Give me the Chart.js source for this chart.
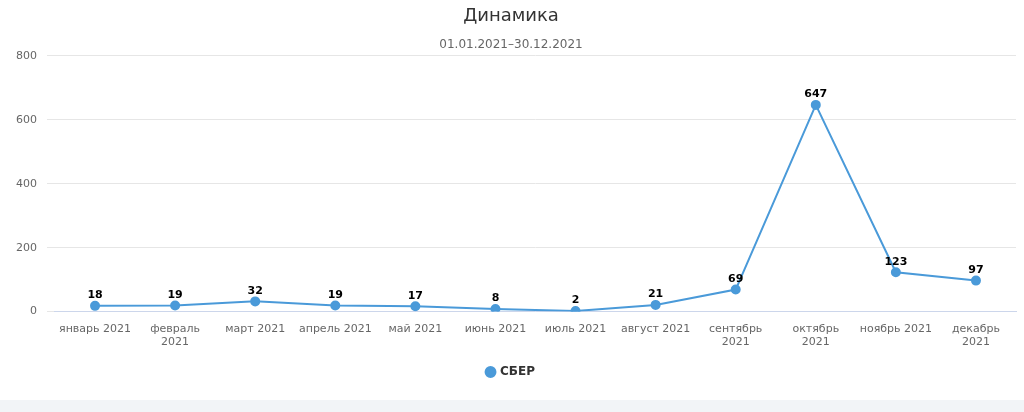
<!DOCTYPE html>
<html><head><meta charset="utf-8">
<script src="https://cdn.jsdelivr.net/npm/chart.js@4"></script>
<style>
html,body{margin:0;padding:0;background:#f2f4f7;}
#wrap{width:1024px;height:400px;background:#fff;position:relative;}
</style></head>
<body><div id="wrap"><canvas id="c"></canvas></div>
<script>
const categories=["январь 2021",["февраль","2021"],"март 2021","апрель 2021","май 2021","июнь 2021","июль 2021","август 2021",["сентябрь","2021"],["октябрь","2021"],"ноябрь 2021",["декабрь","2021"]];
const sberValues=[18,19,32,19,17,8,2,21,69,647,123,97];
const yTicks=[0,200,400,600,800];
const labelPlugin={id:'lbl',afterDatasetsDraw(ch){const ctx=ch.ctx;const m=ch.getDatasetMeta(0);ctx.save();ctx.font='bold 11px "DejaVu Sans"';ctx.fillStyle='#000';ctx.textAlign='center';ctx.textBaseline='bottom';m.data.forEach((p,i)=>{ctx.fillText(sberValues[i],p.x,p.y-5);});ctx.restore();}};
new Chart(document.getElementById('c'),{type:'line',data:{labels:categories,datasets:[{label:'СБЕР',data:sberValues,borderColor:'#4a9ad9',backgroundColor:'#4a9ad9',borderWidth:2,pointRadius:4,pointHoverRadius:4,tension:0}]},
options:{responsive:true,maintainAspectRatio:false,animation:false,
layout:{padding:{left:6,right:8,top:0,bottom:12}},
plugins:{title:{display:true,text:'Динамика',color:'#333',font:{family:'DejaVu Sans',size:18,weight:'normal'},padding:{top:6,bottom:10}},
subtitle:{display:true,text:'01.01.2021–30.12.2021',color:'#666',font:{family:'DejaVu Sans',size:12},padding:{bottom:4}},
legend:{position:'bottom',labels:{usePointStyle:true,pointStyle:'circle',boxWidth:7,boxHeight:7,color:'#333',font:{family:'DejaVu Sans',size:12,weight:'bold'},padding:14}},tooltip:{enabled:false}},
scales:{x:{offset:true,grid:{display:false},border:{color:'#ccd6eb'},ticks:{color:'#666',font:{family:'DejaVu Sans',size:11},maxRotation:0,autoSkip:false}},
y:{min:0,max:800,afterBuildTicks(a){a.ticks=yTicks.map(v=>({value:v}));},grid:{color:'#e6e6e6'},border:{display:false},ticks:{color:'#666',font:{family:'DejaVu Sans',size:11},padding:10}}}},
plugins:[labelPlugin]});
</script></body></html>
